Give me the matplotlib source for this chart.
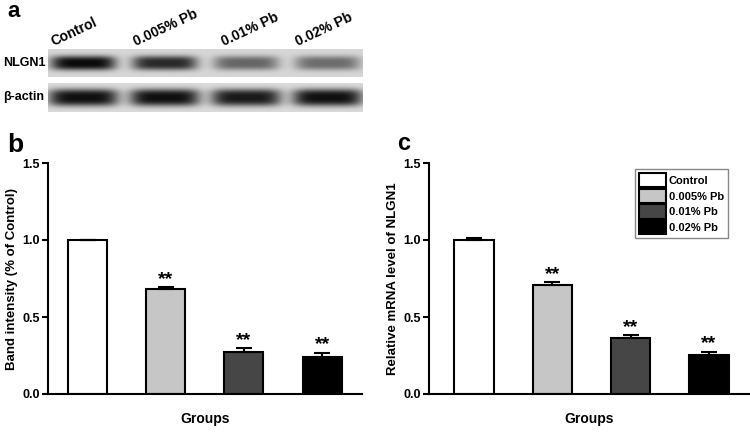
import numpy as np
import matplotlib
matplotlib.use("Agg")
import matplotlib.pyplot as plt
from matplotlib.patches import Patch

plt.rcParams['font.family'] = ['Liberation Sans', 'DejaVu Sans']
plt.rcParams['font.weight'] = 'bold'

groups = ["Control", "0.005% Pb", "0.01% Pb", "0.02% Pb"]
colors = ["#ffffff", "#c6c6c6", "#464646", "#000000"]

# panel b: band intensity
band_vals = [1.0, 0.68, 0.272, 0.242]
band_err = [0.0, 0.012, 0.024, 0.026]
band_sig = ["", "**", "**", "**"]

# panel c: relative mRNA
mrna_vals = [1.0, 0.71, 0.362, 0.252]
mrna_err = [0.012, 0.018, 0.02, 0.022]
mrna_sig = ["", "**", "**", "**"]

# blot band strengths (relative darkness)
nlgn1_blot = [1.0, 0.85, 0.55, 0.52]
actin_blot = [1.0, 1.0, 0.95, 1.0]
blot_rows = ["NLGN1", "\u03b2-actin"]

W, H = 750, 434
fig = plt.figure(figsize=(7.5, 4.34), dpi=100)

def ax_px(x0, y0, x1, y1):
    return fig.add_axes([x0 / W, 1 - y1 / H, (x1 - x0) / W, (y1 - y0) / H])

# ---------------- blot ----------------
def blot(ax, strengths, band_h, band_w, bg):
    xs = np.linspace(-0.43, 3.43, 400)
    ys = np.linspace(0, 1, 60)
    X, Y = np.meshgrid(xs, ys)
    img = np.full_like(X, bg)
    for i, s in enumerate(strengths):
        hx = np.exp(-np.abs((X - i) / (band_w / 2)) ** 5)
        vy = np.exp(-np.abs((Y - 0.5) / band_h) ** 3)
        img = img - s * 0.8 * hx * vy
    img = np.clip(img, 0, 1)
    ax.imshow(img, cmap='gray', vmin=0, vmax=1, aspect='auto',
              extent=[-0.43, 3.43, 0, 1], origin='lower', interpolation='bilinear')
    ax.set_xlim(-0.43, 3.43)
    ax.set_ylim(0, 1)
    ax.set_xticks([]); ax.set_yticks([])
    for s in ax.spines.values():
        s.set_visible(False)

axb1 = ax_px(48, 49, 363, 77)
blot(axb1, nlgn1_blot, 0.26, 0.8, 0.84)
axb2 = ax_px(48, 83, 363, 112)
blot(axb2, actin_blot, 0.3, 0.86, 0.86)
fig.text(3 / W, 1 - 63 / H, blot_rows[0], fontsize=9, fontweight='bold', va='center', ha='left')
fig.text(3 / W, 1 - 97 / H, blot_rows[1], fontsize=9, fontweight='bold', va='center', ha='left')
label_offsets = [-0.37, -0.35, -0.27, -0.37]
for i, g in enumerate(groups):
    axb1.text(i + label_offsets[i], 1.12, g, transform=axb1.transData, rotation=25, fontsize=10,
              fontweight='bold', ha='left', va='baseline', rotation_mode='anchor')
fig.text(7 / W, 1 - 17 / H, "a", fontsize=16, fontweight='bold', ha='left', va='baseline')

# ---------------- bar panels ----------------
def bar_panel(ax, vals, errs, sig, ylabel, xl):
    x = np.arange(len(vals))
    ax.bar(x, vals, width=0.5, color=colors, edgecolor='black', linewidth=1.5, zorder=2)
    ax.errorbar(x, vals, yerr=[np.zeros(len(errs)), errs], fmt='none', ecolor='black',
                elinewidth=1.5, capsize=6, capthick=1.5, zorder=3)
    for xi, v, e, s in zip(x, vals, errs, sig):
        if s:
            ax.text(xi, v + e - 0.005, s, ha='center', va='bottom', fontsize=14, fontweight='bold')
    ax.set_xlim(xl, 3.51)
    ax.set_ylim(0, 1.5)
    ax.set_yticks([0, 0.5, 1.0, 1.5])
    ax.set_yticklabels(["0.0", "0.5", "1.0", "1.5"])
    ax.set_xticks([])
    ax.spines['top'].set_visible(False)
    ax.spines['right'].set_visible(False)
    ax.spines['left'].set_linewidth(1.5)
    ax.spines['bottom'].set_linewidth(1.5)
    ax.tick_params(axis='y', length=4, width=1.5, labelsize=9, pad=2)
    for lab in ax.get_yticklabels():
        lab.set_fontweight('bold')
    ax.set_ylabel(ylabel, fontsize=9.5, fontweight='bold', labelpad=3)
    ax.set_xlabel("Groups", fontsize=10, fontweight='bold', labelpad=13)

axB = ax_px(48, 163, 362, 394)
bar_panel(axB, band_vals, band_err, band_sig, "Band intensity (% of Control)", -0.506)
fig.text(7 / W, 1 - 152 / H, "b", fontsize=19, fontweight='bold', ha='left', va='baseline')

axC = ax_px(429, 163, 749, 394)
bar_panel(axC, mrna_vals, mrna_err, mrna_sig, "Relative mRNA level of NLGN1", -0.575)
fig.text(397 / W, 1 - 150 / H, "c", fontsize=17, fontweight='bold', ha='left', va='baseline')

handles = [Patch(facecolor=c, edgecolor='black', linewidth=1.5) for c in colors]
leg = axC.legend(handles, groups, loc='upper right', bbox_to_anchor=(0.934, 0.973),
                 fancybox=False, edgecolor='#888888', framealpha=1, fontsize=8,
                 handlelength=2.4, handleheight=1.6, labelspacing=0.12, handletextpad=0.3,
                 borderpad=0.35, borderaxespad=0)
leg.get_frame().set_linewidth(1.0)
for t in leg.get_texts():
    t.set_fontweight('bold')

fig.savefig("out.png", dpi=100)
